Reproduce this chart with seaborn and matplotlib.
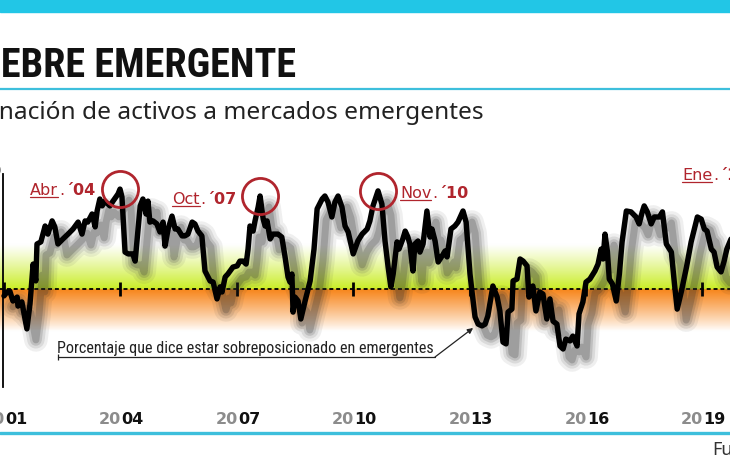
import numpy as np
import pandas as pd
import matplotlib
matplotlib.use("Agg")
import matplotlib.pyplot as plt
import matplotlib.transforms as mtransforms
from matplotlib import font_manager as fm
from matplotlib.lines import Line2D
import seaborn as sns

# Serie: fecha (año decimal) y % neto sobreposicionado en emergentes
fechas = [
    2001.00, 2001.08, 2001.15, 2001.23, 2001.34, 2001.36, 2001.46, 2001.59, 2001.67, 2001.75,
    2001.82, 2001.85, 2001.95, 2002.06, 2002.13, 2002.24, 2002.31, 2002.39, 2002.52, 2002.65,
    2002.78, 2002.91, 2003.01, 2003.09, 2003.16, 2003.27, 2003.35, 2003.40, 2003.47, 2003.53,
    2003.60, 2003.73, 2003.81, 2003.94, 2003.99, 2004.04, 2004.12, 2004.20, 2004.32, 2004.38,
    2004.51, 2004.58, 2004.66, 2004.71, 2004.76, 2004.84, 2004.94, 2005.02, 2005.10, 2005.15,
    2005.23, 2005.33, 2005.41, 2005.48, 2005.59, 2005.66, 2005.74, 2005.85, 2005.92, 2006.00,
    2006.10, 2006.18, 2006.31, 2006.39, 2006.49, 2006.57, 2006.62, 2006.70, 2006.77, 2006.90,
    2007.01, 2007.08, 2007.16, 2007.24, 2007.29, 2007.34, 2007.42, 2007.47, 2007.55, 2007.60,
    2007.68, 2007.73, 2007.78, 2007.86, 2007.93, 2008.06, 2008.16, 2008.24, 2008.32, 2008.37,
    2008.42, 2008.45, 2008.50, 2008.58, 2008.65, 2008.76, 2008.89, 2008.99, 2009.07, 2009.20,
    2009.27, 2009.35, 2009.45, 2009.53, 2009.61, 2009.71, 2009.79, 2009.87, 2010.00, 2010.12,
    2010.23, 2010.36, 2010.43, 2010.51, 2010.64, 2010.74, 2010.82, 2010.90, 2010.97, 2011.03,
    2011.13, 2011.18, 2011.28, 2011.34, 2011.41, 2011.46, 2011.54, 2011.59, 2011.67, 2011.72,
    2011.80, 2011.90, 2011.98, 2012.03, 2012.11, 2012.19, 2012.29, 2012.37, 2012.42, 2012.52,
    2012.62, 2012.70, 2012.83, 2012.91, 2013.01, 2013.06, 2013.14, 2013.22, 2013.32, 2013.40,
    2013.47, 2013.60, 2013.71, 2013.78, 2013.86, 2013.94, 2013.99, 2014.09, 2014.12, 2014.22,
    2014.30, 2014.38, 2014.48, 2014.53, 2014.63, 2014.71, 2014.81, 2014.89, 2014.99, 2015.07,
    2015.15, 2015.25, 2015.33, 2015.41, 2015.48, 2015.59, 2015.66, 2015.77, 2015.82, 2015.92,
    2016.00, 2016.10, 2016.23, 2016.31, 2016.39, 2016.44, 2016.49, 2016.55, 2016.60, 2016.68,
    2016.78, 2016.86, 2016.93, 2017.04, 2017.16, 2017.29, 2017.37, 2017.45, 2017.50, 2017.58,
    2017.68, 2017.76, 2017.89, 2017.97, 2018.07, 2018.20, 2018.28, 2018.35, 2018.46, 2018.59,
    2018.71, 2018.87, 2018.97, 2019.05, 2019.12, 2019.23, 2019.30, 2019.38, 2019.48, 2019.56,
    2019.63, 2019.79,
]
porcentaje = [
    -2.3, -1.0, -0.7, -4.0, -2.7, -5.7, -4.3, -13.3, -5.0, 8.3,
    2.7, 15.0, 15.7, 21.0, 18.3, 22.7, 20.7, 15.0, 16.7, 18.3,
    20.0, 22.3, 18.3, 22.7, 22.3, 25.0, 20.7, 26.0, 30.0, 27.7,
    29.3, 27.7, 29.3, 31.7, 33.3, 30.7, 12.3, 11.7, 11.7, 9.3,
    27.7, 30.0, 25.0, 29.3, 22.3, 22.7, 21.7, 19.0, 22.3, 14.3,
    20.0, 24.3, 20.0, 20.0, 17.7, 17.7, 18.3, 22.3, 21.7, 19.3,
    17.7, 6.0, 2.7, 2.3, -3.3, 0.7, -1.0, 4.0, 5.0, 7.3,
    7.7, 9.3, 9.3, 8.3, 13.3, 21.0, 19.3, 22.7, 27.3, 31.0,
    23.3, 21.0, 22.7, 16.7, 18.3, 18.3, 17.3, 11.0, 4.0, 2.3,
    5.0, -7.7, -2.7, -4.0, -10.0, -4.0, 2.7, 13.3, 26.7, 30.0,
    31.0, 29.0, 24.0, 29.0, 31.0, 27.3, 21.0, 19.0, 11.7, 16.0,
    18.3, 20.0, 22.7, 27.7, 32.7, 28.3, 16.0, 7.3, 0.7, 5.0,
    15.7, 13.3, 16.7, 19.3, 17.3, 15.0, 6.0, 15.0, 16.0, 12.3,
    15.0, 26.0, 17.3, 20.0, 16.0, 9.0, 11.0, 12.7, 10.7, 20.0,
    21.0, 22.3, 26.0, 22.3, 5.0, -0.7, -9.3, -11.7, -12.3, -11.7,
    -9.0, 1.0, -2.7, -7.3, -17.7, -18.3, -7.7, -6.7, 2.7, 3.3,
    10.0, 9.3, 7.7, -2.7, 1.0, -7.3, -1.0, -1.7, -10.0, -3.3,
    -10.7, -11.7, -19.0, -20.0, -16.7, -17.3, -15.7, -19.0, -8.3, -4.3,
    2.3, 3.3, 6.0, 8.3, 13.3, 10.0, 18.3, 12.7, 3.3, 1.7,
    -4.0, 5.0, 15.7, 26.0, 25.7, 24.0, 21.7, 25.7, 27.7, 25.7,
    21.7, 24.0, 24.0, 25.7, 15.0, 12.3, 1.7, -6.7, -0.7, 7.3,
    15.7, 24.0, 23.3, 20.0, 19.3, 13.3, 12.3, 7.3, 5.7, 9.3,
    13.3, 18.3,
]

anios = [2001, 2004, 2007, 2010, 2013, 2016, 2019]
picos_fecha = [2003.99, 2007.60, 2010.64]
etiq_mes = ["Abr", "Oct", "Nov", "Ene"]
etiq_anio = ["04", "07", "10", "18"]

titulo = "FIEBRE EMERGENTE"
subtitulo = "Asignación de activos a mercados emergentes"
nota = "Porcentaje que dice estar sobreposicionado en emergentes"
fuente = "Fuente"

sns.set_style("white")
plt.rcParams["font.family"] = ["DejaVu Sans"]

W, H = 730, 460
fig = plt.figure(figsize=(W / 100, H / 100), dpi=100)
renderer = fig.canvas.get_renderer()


def fx(x):
    return x / W


def fy(y):
    return 1 - y / H


def peso_num(w):
    if isinstance(w, (int, float)):
        return int(w)
    return fm.weight_dict.get(w, 400)


def fuente_angosta(peso):
    # busca una sans condensada instalada; si no hay, Roboto
    orden = ["Liberation Sans Narrow", "Roboto Condensed", "Noto Sans", "Open Sans",
             "DejaVu Sans", "Liberation Sans"]
    cands = []
    for f in fm.fontManager.ttflist:
        angosta = (str(f.stretch) in ("condensed", "semi-condensed")
                   or "Condensed" in f.name or "Narrow" in f.name
                   or "Condensed" in f.fname or "Narrow" in f.fname)
        if not angosta or f.style != "normal" or "Extra" in f.fname:
            continue
        fam = next((i for i, o in enumerate(orden) if f.name.startswith(o)), None)
        if fam is None:
            continue
        cands.append((abs(peso_num(f.weight) - peso), fam, f.fname))
    if cands:
        cands.sort()
        return fm.FontProperties(fname=cands[0][2])
    return fm.FontProperties(family="Roboto", weight=peso)


def tam_para_ancho(texto, ancho, fp):
    fp = fp.copy()
    fp.set_size(20)
    t = fig.text(0, 0, texto, fontproperties=fp)
    w = t.get_window_extent(renderer).width
    t.remove()
    return 20 * ancho / w


CIAN = "#22c6e6"
ROJO = "#b0252d"

# franja superior y lineas separadoras
fig.patches.append(plt.Rectangle((0, fy(13)), 1, 13 / H, transform=fig.transFigure,
                                 color=CIAN, zorder=0))
fig.add_artist(Line2D([0, 1], [fy(90)] * 2, color="#3dbfdc", lw=1.6))
fig.add_artist(Line2D([0, 1], [fy(434)] * 2, color="#3dbfdc", lw=2.4))

# titulos (cortados por el borde, como en el original)
fp_tit = fuente_angosta(700)
fp_tit.set_size(tam_para_ancho("EBRE EMERGENTE", 296, fp_tit))
fig.text(fx(296), fy(77), titulo, ha="right", va="baseline",
         fontproperties=fp_tit, color="#111111")

fp_sub = fm.FontProperties(family=["Noto Sans", "DejaVu Sans"])
fp_sub.set_size(tam_para_ancho("nación de activos a mercados emergentes", 483, fp_sub))
fig.text(fx(484), fy(119), subtitulo, ha="right", va="baseline",
         fontproperties=fp_sub, color="#222222")
fig.text(fx(712), fy(455), fuente, ha="left", va="baseline", fontsize=13,
         family=["Noto Sans", "DejaVu Sans"], color="#333333")

# ejes: 38.8 px por año, 3 px por punto porcentual
px_anio = 38.8
x0 = 2001 - 4 / px_anio
x1 = 2001 + 726 / px_anio
ax = fig.add_axes([0, fy(395), 1, 230 / H])
ax.patch.set_alpha(0)

# degradado verde (arriba de 0) y naranja (abajo)
v = np.linspace(16, -16, 321)
lima = np.array([0.79, 0.93, 0.15])
naranja = np.array([0.97, 0.52, 0.10])
blanco = np.ones(3)
f_sup = np.clip(1 - v / 15, 0, 1) ** 1.1
f_inf = np.clip(1 + v / 14, 0, 1) ** 0.9
col = np.where(v[:, None] >= 0,
               blanco + (lima - blanco) * f_sup[:, None],
               blanco + (naranja - blanco) * f_inf[:, None])
ax.imshow(col[:, None, :], extent=[x0, x1, -16, 16], aspect="auto",
          zorder=0, interpolation="bilinear")

ax.axhline(0, color="black", lw=1.3, ls=(0, (2.2, 1.6)), zorder=1)

# sombra difusa de la linea, desplazada abajo a la derecha
for lw, a in [(17, 0.07), (12.5, 0.10), (8.5, 0.15), (5, 0.22)]:
    sombra = mtransforms.offset_copy(ax.transData, fig=fig, x=9, y=-11, units="dots")
    ax.plot(fechas, porcentaje, color="#2a2a2a", lw=lw, alpha=a, transform=sombra,
            zorder=2, solid_joinstyle="round", solid_capstyle="round")

df = pd.DataFrame({"fecha": fechas, "porcentaje": porcentaje})
sns.lineplot(data=df, x="fecha", y="porcentaje", color="black", lw=3.9, ax=ax,
             zorder=3, estimator=None, sort=False)
ax.set_xlabel("")
ax.set_ylabel("")

# circulos en los picos
picos_valor = np.interp(picos_fecha, fechas, porcentaje)
ax.plot(picos_fecha, picos_valor, ls="none", marker="o", ms=26, mfc="none",
        mec=ROJO, mew=2, zorder=4)

ax.set_xlim(x0, x1)
ax.set_ylim(-35, 125 / 3)

sns.despine(ax=ax, top=True, right=True, left=False, bottom=False)
ax.spines["left"].set_position(("data", 2001 - 1 / px_anio))
ax.spines["left"].set_bounds(-32.7, 38.3)
ax.spines["left"].set_linewidth(1.3)
ax.spines["left"].set_color("black")
ax.spines["bottom"].set_position(("data", 0))
ax.spines["bottom"].set_color("none")
ax.set_xticks(anios)
ax.tick_params(axis="x", bottom=True, direction="inout", length=10, width=2,
               color="black", labelbottom=False)
ax.set_yticks([40])
ax.set_yticklabels(["40"])
ax.tick_params(axis="y", left=True, length=0, pad=1, labelsize=11)
for t in ax.get_yticklabels():
    t.set_fontweight("bold")

# años del eje: "20" gris y los dos ultimos digitos en negro
trans_anio = mtransforms.blended_transform_factory(ax.transData, fig.transFigure)
for a in anios:
    s = str(a)
    xa = a + 1 / px_anio
    ax.text(xa, fy(424), s[:2], transform=trans_anio, ha="right", va="baseline",
            fontsize=11.5, fontweight="bold", color="#8c8c8c")
    ax.text(xa, fy(424), s[2:], transform=trans_anio, ha="left", va="baseline",
            fontsize=11.5, fontweight="bold", color="#111111")

# nota con flecha
fp_nota = fuente_angosta(400)
fp_nota.set_size(tam_para_ancho(nota, 378, fp_nota))
fig.text(fx(57), fy(353), nota, ha="left", va="baseline",
         fontproperties=fp_nota, color="#222222")
fig.add_artist(Line2D([fx(58), fx(435)], [fy(358)] * 2, color="#222222", lw=0.9,
                      marker="|", markevery=[0], ms=5, mew=0.9))
ax.annotate("", xy=(2013.09, -13), xycoords="data",
            xytext=(fx(435), fy(358)), textcoords="figure fraction",
            arrowprops=dict(arrowstyle="-|>", color="#222222", lw=0.9,
                            shrinkA=0, shrinkB=0, mutation_scale=8))

# etiquetas de los picos: mes subrayado + año en negrita
pos_etiq = [(30, 195), (172, 204), (400, 198), (682, 180)]
for (xe, ye), mes, an in zip(pos_etiq, etiq_mes, etiq_anio):
    cx = xe
    for txt, peso, sub in [(mes, "normal", True), (".", "normal", False),
                           ("\u00b4" + an, "bold", False)]:
        t = fig.text(fx(cx), fy(ye), txt, ha="left", va="baseline", fontsize=11.5,
                     fontweight=peso, color=ROJO)
        w = t.get_window_extent(renderer).width
        if sub:
            fig.add_artist(Line2D([fx(cx), fx(cx + w)], [fy(ye + 2.5)] * 2,
                                  color=ROJO, lw=0.9))
        cx += w + 1

fig.savefig("out.png", dpi=100)
